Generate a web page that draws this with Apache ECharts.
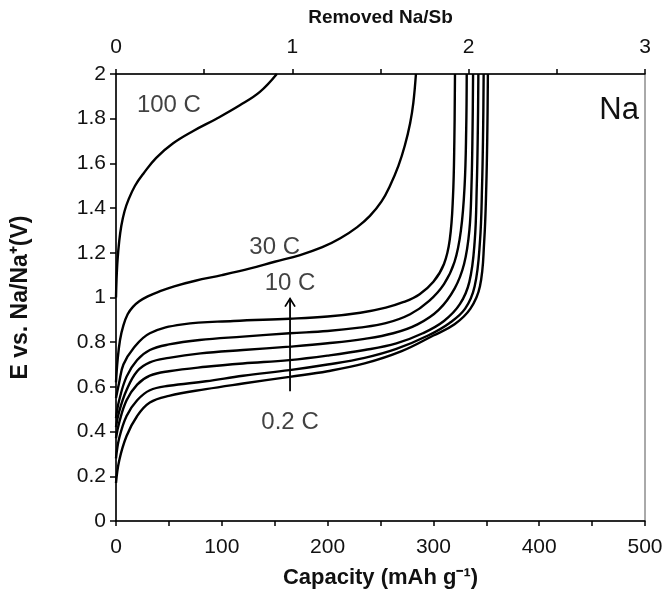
<!DOCTYPE html>
<html>
<head>
<meta charset="utf-8">
<script src="https://cdn.jsdelivr.net/npm/echarts@6/dist/echarts.min.js"></script>
<style>
  html, body { margin: 0; padding: 0; background: #fff; }
  #chart { width: 670px; height: 596px; }
</style>
</head>
<body>
<div id="chart"></div>
<script>
// Galvanostatic desodiation curves, capacity (mAh/g) vs potential (V)
const rate100C = [[0,1.0],[0.5,1.08],[1.5,1.17],[3,1.25],[5,1.32],[8,1.385],[12,1.44],[18,1.5],[26,1.555],[38,1.625],[54,1.69],[73,1.745],[95,1.80],[117,1.86],[136,1.92],[152,2.0]];
const rate30C = [[0,0.62],[1.5,0.72],[3.8,0.81],[7,0.875],[11,0.925],[16,0.958],[22,0.983],[30,1.005],[40,1.025],[55,1.05],[75,1.075],[100,1.10],[127,1.13],[150,1.16],[174,1.19],[195,1.225],[212,1.265],[228,1.315],[240,1.365],[251,1.43],[259,1.50],[267,1.59],[273,1.68],[278,1.78],[281,1.87],[283.5,2.0]];
const rate10C = [[0,0.55],[3,0.62],[7,0.70],[16,0.77],[32,0.84],[63,0.88],[111,0.895],[164,0.905],[200,0.915],[231,0.932],[255,0.955],[272,0.98],[287,1.015],[300,1.07],[310,1.15],[315.5,1.26],[318.5,1.45],[319.8,1.7],[320.4,2.0]];
const rate5C = [[0,0.46],[3,0.54],[10,0.646],[20,0.72],[32,0.765],[50,0.79],[79,0.81],[120,0.825],[164,0.84],[200,0.85],[230,0.865],[255,0.885],[278,0.925],[296,0.985],[310,1.06],[320,1.16],[326,1.30],[329.5,1.5],[331,1.75],[331.5,2.0]];
const rate2C = [[0,0.42],[3,0.49],[10,0.586],[20,0.67],[32,0.71],[50,0.73],[80,0.75],[120,0.765],[164,0.78],[200,0.795],[235,0.815],[262,0.84],[285,0.88],[305,0.945],[320,1.04],[329,1.15],[334,1.30],[336,1.5],[337,1.75],[337.5,2.0]];
const rate1C = [[0,0.37],[3,0.44],[10,0.54],[20,0.61],[32,0.65],[50,0.67],[85,0.69],[120,0.705],[164,0.72],[200,0.74],[235,0.765],[265,0.795],[290,0.84],[310,0.895],[325,0.97],[334,1.07],[339,1.25],[341,1.5],[342,1.75],[342.5,2.0]];
const rate05C = [[0,0.28],[3,0.37],[10,0.47],[20,0.54],[32,0.585],[50,0.605],[85,0.625],[120,0.65],[164,0.675],[200,0.70],[235,0.73],[265,0.77],[295,0.83],[315,0.885],[330,0.95],[339,1.05],[344,1.25],[346,1.5],[347,1.75],[347.5,2.0]];
const rate02C = [[0,0.17],[3,0.27],[10,0.38],[20,0.47],[32,0.53],[50,0.56],[85,0.59],[120,0.615],[164,0.645],[200,0.67],[235,0.705],[270,0.76],[300,0.83],[320,0.88],[335,0.95],[344,1.05],[348,1.25],[350,1.5],[351,1.75],[351.5,2.0]];

const curves = [rate100C, rate30C, rate10C, rate5C, rate2C, rate1C, rate05C, rate02C];

// Rate annotations
const labelTexts = ['100 C', '30 C', '10 C', '0.2 C'];
const labelCaps = [50, 150, 164.5, 164.5];
const labelVolts = [1.86, 1.225, 1.065, 0.443];

// Arrow from 0.2 C up to 10 C
const arrowFrom = [164.5, 0.58];
const arrowTo = [164.5, 0.995];

const font = 'Liberation Sans, Arial, Helvetica, sans-serif';
const ink = '#111';

const chart = echarts.init(document.getElementById('chart'));

const lineSeries = curves.map(function (pts) {
  return {
    type: 'line',
    data: pts,
    showSymbol: false,
    smooth: 0.4,
    lineStyle: { color: '#000', width: 2.4 },
    silent: true,
    z: 3
  };
});

const tickStyle = { color: '#000', width: 1.5 };

chart.setOption({
  animation: false,
  backgroundColor: '#fff',
  grid: {
    left: 116, right: 25, top: 74, bottom: 75,
    outerBoundsMode: 'none', containLabel: false,
    show: true, borderColor: '#555', borderWidth: 1
  },
  xAxis: [
    {
      type: 'value', min: 0, max: 500, interval: 100, position: 'bottom',
      name: 'Capacity (mAh g\u207B\u00B9)', nameLocation: 'middle', nameGap: 46,
      nameTextStyle: { fontFamily: font, fontSize: 22, fontWeight: 'bold', color: ink },
      axisLine: { show: true, onZero: false, lineStyle: tickStyle },
      axisTick: { show: true, length: 5, lineStyle: tickStyle },
      minorTick: { show: true, splitNumber: 2, length: 5, lineStyle: tickStyle },
      axisLabel: { fontFamily: font, fontSize: 21, color: ink, margin: 16 },
      splitLine: { show: false }
    },
    {
      type: 'value', min: 0, max: 3, interval: 1, position: 'top',
      name: 'Removed Na/Sb', nameLocation: 'middle', nameGap: 47,
      nameTextStyle: { fontFamily: font, fontSize: 19, fontWeight: 'bold', color: ink },
      axisLine: { show: true, onZero: false, lineStyle: tickStyle },
      axisTick: { show: true, length: 5, lineStyle: tickStyle },
      minorTick: { show: true, splitNumber: 2, length: 5, lineStyle: tickStyle },
      axisLabel: { fontFamily: font, fontSize: 21, color: ink, margin: 16 },
      splitLine: { show: false }
    }
  ],
  yAxis: {
    type: 'value', min: 0, max: 2, interval: 0.2,
    name: 'E vs. Na/Na\u207A(V)', nameLocation: 'middle', nameGap: 84, nameRotate: 90,
    nameTextStyle: { fontFamily: font, fontSize: 23, fontWeight: 'bold', color: ink },
    axisLine: { show: true, lineStyle: tickStyle },
    axisTick: { show: true, length: 6, lineStyle: tickStyle },
    axisLabel: {
      fontFamily: font, fontSize: 21, color: ink, margin: 10,
      formatter: function (v) { return String(Math.round(v * 10) / 10); }
    },
    splitLine: { show: false }
  },
  series: lineSeries.concat([
    {
      type: 'scatter',
      symbolSize: 0,
      silent: true,
      data: labelTexts.map(function (t, i) { return { name: t, value: [labelCaps[i], labelVolts[i]] }; }),
      label: {
        show: true, position: 'inside', formatter: '{b}',
        fontFamily: font, fontSize: 24, color: ink
      },
      z: 5
    },
    {
      type: 'custom',
      silent: true,
      data: [[arrowFrom[0], arrowFrom[1], arrowTo[0], arrowTo[1]]],
      renderItem: function (params, api) {
        const p0 = api.coord([api.value(0), api.value(1)]);
        const p1 = api.coord([api.value(2), api.value(3)]);
        return {
          type: 'group',
          children: [
            { type: 'line', shape: { x1: p0[0], y1: p0[1], x2: p1[0], y2: p1[1] }, style: { stroke: '#000', lineWidth: 1.8 } },
            { type: 'polyline', shape: { points: [[p1[0] - 5, p1[1] + 8], [p1[0], p1[1]], [p1[0] + 5, p1[1] + 8]] }, style: { stroke: '#000', lineWidth: 1.8, fill: null } }
          ]
        };
      },
      z: 4
    }
  ]),
  graphic: [
    {
      type: 'text', right: 31, top: 95,
      style: { text: 'Na', fontFamily: font, fontSize: 31, fill: ink }
    }
  ]
});
</script>
</body>
</html>
